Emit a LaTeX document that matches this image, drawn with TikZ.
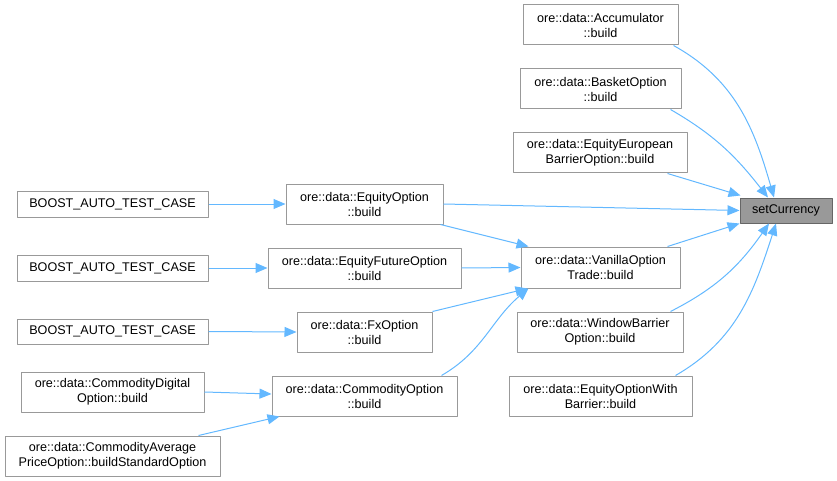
\documentclass[tikz,border=0pt]{standalone}
\usepackage{fontspec}
\setmainfont{Liberation Sans}
\usetikzlibrary{arrows.meta}
\definecolor{edgeblue}{HTML}{63B8FF}
\definecolor{boxgray}{HTML}{999999}
\definecolor{rootgray}{HTML}{666666}
\begin{document}
\begin{tikzpicture}[x=1pt,y=-1pt,>={Triangle[length=12pt,width=10pt]}, font=\fontsize{12.6}{15}\selectfont, line join=round,
	fn/.style={draw=boxgray,line width=1pt,fill=white,inner sep=0pt,align=center},
	root/.style={fn,draw=rootgray,fill=boxgray},
	call/.style={->,draw=edgeblue,line width=1pt}]
	\useasboundingbox (0,0) rectangle (837,481);
	% ham goc
	\node[root,minimum width=92,minimum height=25] (sc) at (786,210.5) {setCurrency};
	% cot ben phai
	\node[fn,minimum width=155,minimum height=40] (acc) at (600.5,25) {ore::data::Accumulator\\::build};
	\node[fn,minimum width=161,minimum height=40] (bo) at (600.5,89) {ore::data::BasketOption\\::build};
	\node[fn,minimum width=174,minimum height=40] (ee) at (600,153) {ore::data::EquityEuropean\\BarrierOption::build};
	\node[fn,minimum width=159,minimum height=41] (van) at (600.5,267.5) {ore::data::VanillaOption\\Trade::build};
	\node[fn,minimum width=166,minimum height=40] (wb) at (600,332) {ore::data::WindowBarrier\\Option::build};
	\node[fn,minimum width=183,minimum height=40] (eb) at (600.5,396) {ore::data::EquityOptionWith\\Barrier::build};
	% cot giua
	\node[fn,minimum width=157,minimum height=40] (eo) at (364.5,204) {ore::data::EquityOption\\::build};
	\node[fn,minimum width=193,minimum height=40] (ef) at (364.5,268) {ore::data::EquityFutureOption\\::build};
	\node[fn,minimum width=135,minimum height=40] (fx) at (364.5,332) {ore::data::FxOption\\::build};
	\node[fn,minimum width=185,minimum height=40] (co) at (364.5,396) {ore::data::CommodityOption\\::build};
	% cot trai
	\node[fn,minimum width=191,minimum height=26] (t1) at (112.5,204) {BOOST\_AUTO\_TEST\_CASE};
	\node[fn,minimum width=191,minimum height=26] (t2) at (112.5,268) {BOOST\_AUTO\_TEST\_CASE};
	\node[fn,minimum width=191,minimum height=25] (t3) at (112.5,331.5) {BOOST\_AUTO\_TEST\_CASE};
	\node[fn,minimum width=183,minimum height=40] (cd) at (112.5,392) {ore::data::CommodityDigital\\Option::build};
	\node[fn,minimum width=215,minimum height=40] (ca) at (112.5,456) {ore::data::CommodityAverage\\PriceOption::buildStandardOption};
	% cac loi goi
	\draw[call] ([xshift=-5]acc.south east) to[out=-29,in=106] ([xshift=-12]sc.north);
	\draw[call] ([xshift=-11]bo.south east) to[out=-30,in=128] ([xshift=-18]sc.north);
	\draw[call] ([xshift=-20]ee.south east) -- ([xshift=1,yshift=2]sc.north west);
	\draw[call] (eo.east) -- (sc.west);
	\draw[call] ([xshift=-13]van.north east) -- (sc.south west);
	\draw[call] ([xshift=-13]wb.north east) to[out=27,in=-125] ([xshift=-17]sc.south);
	\draw[call] ([xshift=-17]eb.north east) to[out=30,in=-108] ([xshift=-10]sc.south);
	\draw[call] (t1.east) -- (eo.west);
	\draw[call] (t2.east) -- (ef.west);
	\draw[call] (t3.east) -- (fx.west);
	\draw[call] ([xshift=-3]eo.south east) -- ([xshift=8]van.north west);
	\draw[call] (ef.east) -- (van.west);
	\draw[call] (fx.north east) -- ([xshift=7]van.south west);
	\draw[call] ([xshift=-16]co.north east) to[out=30,in=-140] ([xshift=8]van.south west);
	\draw[call] (cd.east) -- ([yshift=2]co.west);
	\draw[call] ([xshift=-22]ca.north east) -- ([xshift=8]co.south west);
\end{tikzpicture}
\end{document}
